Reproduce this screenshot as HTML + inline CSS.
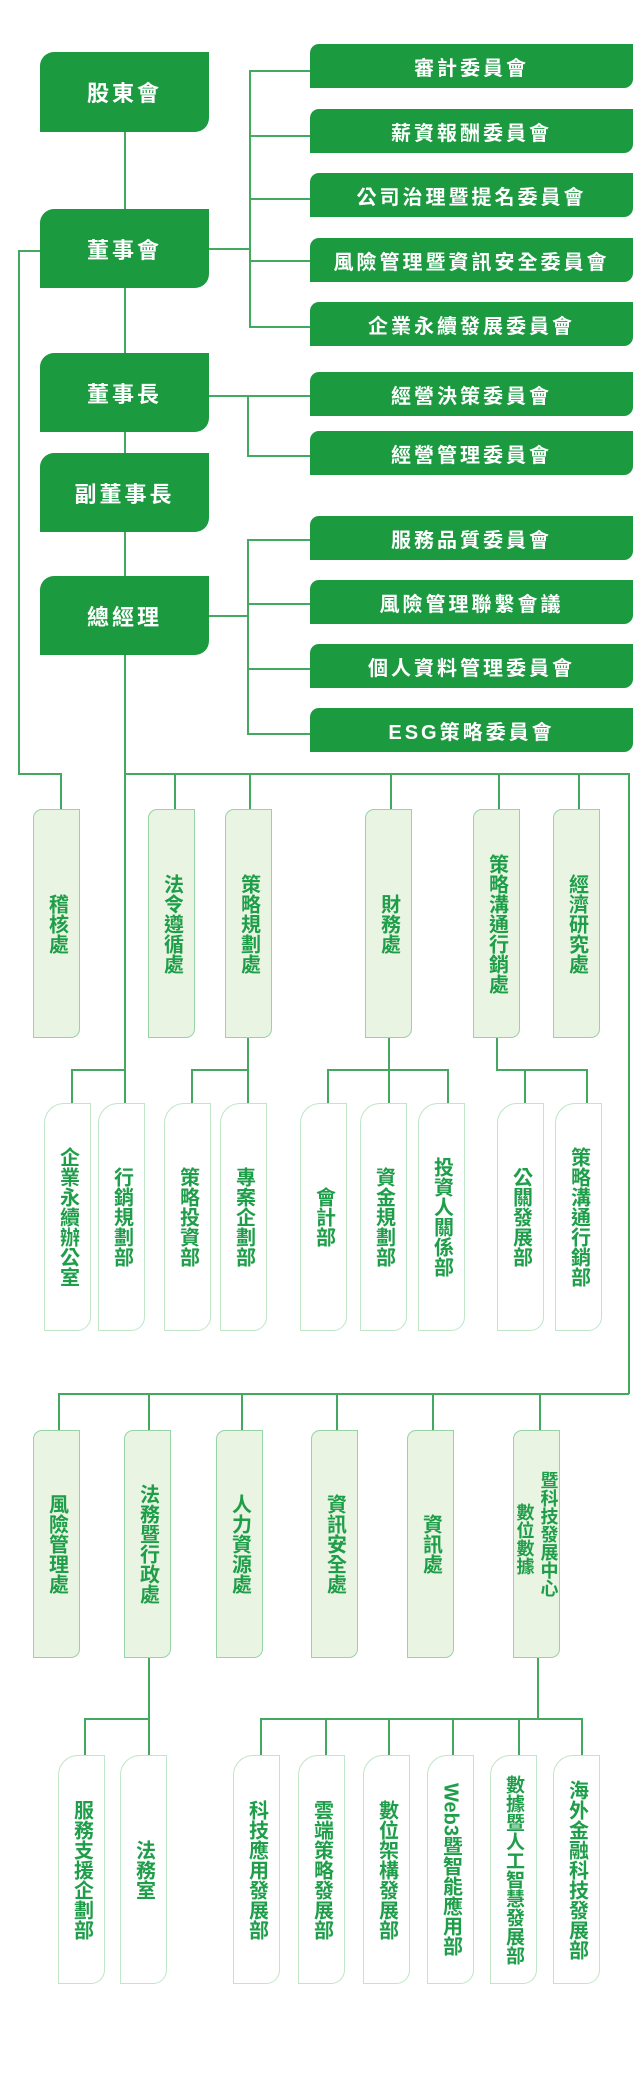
<!DOCTYPE html>
<html><head><meta charset="utf-8"><style>
*{margin:0;padding:0;box-sizing:border-box}
body{width:640px;height:2077px;background:#fff;position:relative;overflow:hidden;font-family:"Liberation Sans","Noto Sans CJK TC",sans-serif}
.l{position:absolute;background:#43a960}
.h{height:1.5px}.v{width:1.5px}
.t{position:absolute;background:#1b9a40;color:#fff;border-radius:14px 0 14px 0;display:flex;align-items:center;justify-content:center;font-size:22px;font-weight:bold;letter-spacing:3px}
.c{position:absolute;left:310px;width:323px;height:44px;background:#1b9a40;color:#fff;border-radius:9px 0 9px 0;display:flex;align-items:center;justify-content:center;font-size:20px;font-weight:bold;letter-spacing:3px}
.g{position:absolute;width:47px;background:#eaf4e2;border:1.5px solid #96d3a6;border-radius:9px 0 9px 0;display:flex;align-items:center;justify-content:center;color:#1e9e49;font-size:20px;font-weight:bold;line-height:22px}
.w{position:absolute;width:47px;background:#fff;border:1.5px solid #bfe6c6;border-radius:20px 0 14px 0;display:flex;align-items:center;justify-content:center;color:#1e9e49;font-size:20px;font-weight:bold;line-height:22px}
.vt{writing-mode:vertical-rl;text-orientation:upright}
</style></head><body>
<!-- top lines -->
<div class="l v" style="left:124px;top:130px;height:940px"></div>
<div class="l h" style="left:209px;top:248px;width:40px"></div>
<div class="l v" style="left:249px;top:70px;height:257px"></div>
<div class="l h" style="left:249px;top:70px;width:61px"></div>
<div class="l h" style="left:249px;top:135px;width:61px"></div>
<div class="l h" style="left:249px;top:198px;width:61px"></div>
<div class="l h" style="left:249px;top:260px;width:61px"></div>
<div class="l h" style="left:249px;top:326px;width:61px"></div>
<div class="l h" style="left:209px;top:395px;width:101px"></div>
<div class="l v" style="left:247px;top:395px;height:61px"></div>
<div class="l h" style="left:247px;top:455px;width:63px"></div>
<div class="l h" style="left:209px;top:615px;width:38px"></div>
<div class="l v" style="left:247px;top:539px;height:195px"></div>
<div class="l h" style="left:247px;top:539px;width:63px"></div>
<div class="l h" style="left:247px;top:603px;width:63px"></div>
<div class="l h" style="left:247px;top:668px;width:63px"></div>
<div class="l h" style="left:247px;top:733px;width:63px"></div>
<div class="l h" style="left:18px;top:250px;width:22px"></div>
<div class="l v" style="left:18px;top:250px;height:524px"></div>
<div class="l h" style="left:18px;top:773px;width:43px"></div>
<div class="l v" style="left:60px;top:773px;height:36px"></div>
<div class="l h" style="left:124px;top:773px;width:505px"></div>
<div class="l v" style="left:628px;top:773px;height:621px"></div>
<div class="l v" style="left:174px;top:773px;height:36px"></div>
<div class="l v" style="left:249px;top:773px;height:36px"></div>
<div class="l v" style="left:390px;top:773px;height:36px"></div>
<div class="l v" style="left:498px;top:773px;height:36px"></div>
<div class="l v" style="left:578px;top:773px;height:36px"></div>
<!-- row2 connectors -->
<div class="l v" style="left:124px;top:1069px;height:34px"></div>
<div class="l h" style="left:71px;top:1069px;width:54px"></div>
<div class="l v" style="left:71px;top:1069px;height:34px"></div>
<div class="l v" style="left:247px;top:1038px;height:65px"></div>
<div class="l h" style="left:191px;top:1069px;width:57px"></div>
<div class="l v" style="left:191px;top:1069px;height:34px"></div>
<div class="l v" style="left:388px;top:1038px;height:65px"></div>
<div class="l h" style="left:327px;top:1069px;width:121px"></div>
<div class="l v" style="left:327px;top:1069px;height:34px"></div>
<div class="l v" style="left:447px;top:1069px;height:34px"></div>
<div class="l v" style="left:496px;top:1038px;height:32px"></div>
<div class="l h" style="left:496px;top:1069px;width:91px"></div>
<div class="l v" style="left:524px;top:1069px;height:34px"></div>
<div class="l v" style="left:586px;top:1069px;height:34px"></div>
<!-- row3 connectors -->
<div class="l h" style="left:58px;top:1393px;width:571px"></div>
<div class="l v" style="left:58px;top:1393px;height:37px"></div>
<div class="l v" style="left:148px;top:1393px;height:37px"></div>
<div class="l v" style="left:241px;top:1393px;height:37px"></div>
<div class="l v" style="left:336px;top:1393px;height:37px"></div>
<div class="l v" style="left:432px;top:1393px;height:37px"></div>
<div class="l v" style="left:539px;top:1393px;height:37px"></div>
<!-- row4 connectors -->
<div class="l v" style="left:148px;top:1658px;height:97px"></div>
<div class="l h" style="left:84px;top:1718px;width:65px"></div>
<div class="l v" style="left:84px;top:1718px;height:37px"></div>
<div class="l v" style="left:537px;top:1658px;height:61px"></div>
<div class="l h" style="left:260px;top:1718px;width:322px"></div>
<div class="l v" style="left:260px;top:1718px;height:37px"></div>
<div class="l v" style="left:325px;top:1718px;height:37px"></div>
<div class="l v" style="left:388px;top:1718px;height:37px"></div>
<div class="l v" style="left:452px;top:1718px;height:37px"></div>
<div class="l v" style="left:518px;top:1718px;height:37px"></div>
<div class="l v" style="left:581px;top:1718px;height:37px"></div>

<!-- top boxes -->
<div class="t" style="left:40px;top:52px;width:169px;height:80px">股東會</div>
<div class="t" style="left:40px;top:209px;width:169px;height:79px">董事會</div>
<div class="t" style="left:40px;top:353px;width:169px;height:79px">董事長</div>
<div class="t" style="left:40px;top:453px;width:169px;height:79px">副董事長</div>
<div class="t" style="left:40px;top:576px;width:169px;height:79px">總經理</div>

<div class="c" style="top:44px">審計委員會</div>
<div class="c" style="top:109px">薪資報酬委員會</div>
<div class="c" style="top:173px">公司治理暨提名委員會</div>
<div class="c" style="top:238px">風險管理暨資訊安全委員會</div>
<div class="c" style="top:302px">企業永續發展委員會</div>
<div class="c" style="top:372px">經營決策委員會</div>
<div class="c" style="top:431px">經營管理委員會</div>
<div class="c" style="top:516px">服務品質委員會</div>
<div class="c" style="top:580px">風險管理聯繫會議</div>
<div class="c" style="top:644px">個人資料管理委員會</div>
<div class="c" style="top:708px">ESG策略委員會</div>

<!-- row1 -->
<div class="g" style="left:33px;top:809px;height:229px"><span class="vt">稽核處</span></div>
<div class="g" style="left:148px;top:809px;height:229px"><span class="vt">法令遵循處</span></div>
<div class="g" style="left:225px;top:809px;height:229px"><span class="vt">策略規劃處</span></div>
<div class="g" style="left:365px;top:809px;height:229px"><span class="vt">財務處</span></div>
<div class="g" style="left:473px;top:809px;height:229px"><span class="vt">策略溝通行銷處</span></div>
<div class="g" style="left:553px;top:809px;height:229px"><span class="vt">經濟研究處</span></div>
<!-- row2 -->
<div class="w" style="left:44px;top:1103px;height:228px"><span class="vt">企業永續辦公室</span></div>
<div class="w" style="left:98px;top:1103px;height:228px"><span class="vt">行銷規劃部</span></div>
<div class="w" style="left:164px;top:1103px;height:228px"><span class="vt">策略投資部</span></div>
<div class="w" style="left:220px;top:1103px;height:228px"><span class="vt">專案企劃部</span></div>
<div class="w" style="left:300px;top:1103px;height:228px"><span class="vt">會計部</span></div>
<div class="w" style="left:360px;top:1103px;height:228px"><span class="vt">資金規劃部</span></div>
<div class="w" style="left:418px;top:1103px;height:228px"><span class="vt">投資人關係部</span></div>
<div class="w" style="left:497px;top:1103px;height:228px"><span class="vt">公關發展部</span></div>
<div class="w" style="left:555px;top:1103px;height:228px"><span class="vt">策略溝通行銷部</span></div>
<!-- row3 -->
<div class="g" style="left:33px;top:1430px;height:228px"><span class="vt">風險管理處</span></div>
<div class="g" style="left:124px;top:1430px;height:228px"><span class="vt">法務暨行政處</span></div>
<div class="g" style="left:216px;top:1430px;height:228px"><span class="vt">人力資源處</span></div>
<div class="g" style="left:311px;top:1430px;height:228px"><span class="vt">資訊安全處</span></div>
<div class="g" style="left:407px;top:1430px;height:228px"><span class="vt">資訊處</span></div>
<div class="g" style="left:513px;top:1430px;height:228px;align-items:flex-start;padding-top:40px;font-size:18px;line-height:20px"><span class="vt" style="margin-top:32px">數位數據</span><span class="vt" style="margin-left:4px">暨科技發展中心</span></div>
<!-- row4 -->
<div class="w" style="left:58px;top:1755px;height:229px"><span class="vt">服務支援企劃部</span></div>
<div class="w" style="left:120px;top:1755px;height:229px"><span class="vt">法務室</span></div>
<div class="w" style="left:233px;top:1755px;height:229px"><span class="vt">科技應用發展部</span></div>
<div class="w" style="left:298px;top:1755px;height:229px"><span class="vt">雲端策略發展部</span></div>
<div class="w" style="left:363px;top:1755px;height:229px"><span class="vt">數位架構發展部</span></div>
<div class="w" style="left:427px;top:1755px;height:229px"><span style="writing-mode:vertical-rl">Web3暨智能應用部</span></div>
<div class="w" style="left:490px;top:1755px;height:229px;font-size:19px;line-height:21px"><span class="vt">數據暨人工智慧發展部</span></div>
<div class="w" style="left:553px;top:1755px;height:229px"><span class="vt">海外金融科技發展部</span></div>
</body></html>
